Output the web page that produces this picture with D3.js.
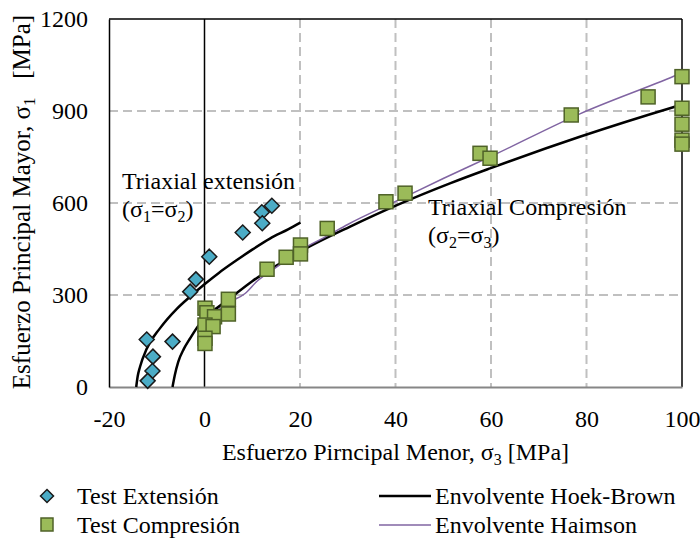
<!DOCTYPE html>
<html>
<head>
<meta charset="utf-8">
<script src="https://cdn.jsdelivr.net/npm/d3@7"></script>
<style>
  body { margin: 0; background: #fff; }
  text { font-family: "Liberation Serif", "Times New Roman", serif; fill: #000; }
</style>
</head>
<body>
<svg id="chart" width="700" height="542"></svg>
<script>
// Tick values
const xTickValues = [-20, 0, 20, 40, 60, 80, 100];
const yTickValues = [0, 300, 600, 900, 1200];

// Triaxial extension tests (sigma3, sigma1) in MPa
const extSigma3 = [-12.1, -6.7, -10.8, -10.9, -11.9, 14.1, 12.0, 12.1, 8.0, 1.0, -1.8, -3.0];
const extSigma1 = [155, 148, 99, 52, 20, 591, 570, 534, 504, 425, 351, 311];

// Triaxial compression tests (sigma3, sigma1) in MPa
const compSigma3 = [0.1, 0.5, 2.1, 5.0, 5.0, 0.1, 1.8, 0.1, 0.1, 13.1, 17.1, 20.1, 20.1, 25.7, 38.0, 42.0, 57.7, 59.8, 76.8, 92.9, 100, 100, 100, 100, 100];
const compSigma1 = [257, 242, 229, 286, 238, 202, 197, 159, 142, 384, 423, 463, 434, 517, 604, 632, 762, 746, 887, 946, 1012, 909, 857, 805, 792];

// Hoek-Brown envelope, extension branch
const hbExtSigma3 = [-14.3, -14.0, -13.5, -12.1, -9.3, -5.8, -3.0, 0, 3, 6.7, 10, 13.7, 17.5, 20.1];
const hbExtSigma1 = [0, 34, 66, 125, 192, 255, 295, 335, 372, 413, 448, 484, 514, 536];

// Hoek-Brown envelope, compression branch
const hbCompSigma3 = [-6.7, -6.2, -5.5, -4.3, -3.0, -0.9, 2, 5, 10, 15, 20.7, 30.5, 40.3, 51.4, 59.8, 78.6, 98.5, 100];
const hbCompSigma1 = [0, 40, 82, 125, 159, 208, 250, 285, 345, 395, 447, 523, 593, 664, 713, 816, 914, 921];

// Haimson envelope
const haimSigma3 = [2, 5, 8.5, 11, 15, 20, 26, 30, 40, 50, 60, 78.5, 98.5, 100];
const haimSigma1 = [240, 275, 305, 345, 390, 445, 495, 530, 605, 680, 752, 890, 1015, 1025];

const extPts = extSigma3.map((v, i) => ({ s3: v, s1: extSigma1[i] }));
const compPts = compSigma3.map((v, i) => ({ s3: v, s1: compSigma1[i] }));
const hbExt = hbExtSigma3.map((v, i) => ({ s3: v, s1: hbExtSigma1[i] }));
const hbComp = hbCompSigma3.map((v, i) => ({ s3: v, s1: hbCompSigma1[i] }));
const haim = haimSigma3.map((v, i) => ({ s3: v, s1: haimSigma1[i] }));

const svg = d3.select("#chart");
const plotL = 109, plotR = 682, plotT = 19, plotB = 387;

const x = d3.scaleLinear().domain([-20, 100]).range([plotL, plotR]);
const y = d3.scaleLinear().domain([0, 1200]).range([plotB, plotT]);

const gridColor = "#c0c0c0";
const fontSize = 24;
const subSize = 16;

// dashed gridlines
svg.append("g").selectAll("line").data([20, 40, 60, 80]).join("line")
  .attr("x1", d => x(d)).attr("x2", d => x(d))
  .attr("y1", plotT).attr("y2", plotB)
  .attr("stroke", gridColor).attr("stroke-width", 2)
  .attr("stroke-dasharray", "9,5");
svg.append("g").selectAll("line").data([300, 600, 900]).join("line")
  .attr("x1", plotL).attr("x2", plotR)
  .attr("y1", d => y(d)).attr("y2", d => y(d))
  .attr("stroke", gridColor).attr("stroke-width", 2)
  .attr("stroke-dasharray", "9,5");

// frame: top, right and sigma3 = 0 line in black
svg.append("line").attr("x1", plotL).attr("x2", plotR).attr("y1", plotT).attr("y2", plotT)
  .attr("stroke", "#000").attr("stroke-width", 1.5);
svg.append("line").attr("x1", plotR).attr("x2", plotR).attr("y1", plotT).attr("y2", plotB)
  .attr("stroke", "#000").attr("stroke-width", 1.5);
svg.append("line").attr("x1", x(0)).attr("x2", x(0)).attr("y1", plotT).attr("y2", plotB)
  .attr("stroke", "#000").attr("stroke-width", 1.5);

// axes
const xAxis = svg.append("g").attr("transform", `translate(0,${plotB})`)
  .call(d3.axisBottom(x).tickValues(xTickValues).tickSize(0).tickPadding(23).tickFormat(d => String(d)));
xAxis.select(".domain").attr("stroke", "#868686").attr("stroke-width", 2);
xAxis.selectAll("text").attr("font-size", fontSize).attr("font-family", "Liberation Serif");

const yAxis = svg.append("g").attr("transform", `translate(${plotL},0)`)
  .call(d3.axisLeft(y).tickValues(yTickValues).tickSize(0).tickPadding(21).tickFormat(d => String(d)));
yAxis.select(".domain").attr("stroke", "#000").attr("stroke-width", 1.5);
yAxis.selectAll("text").attr("font-size", fontSize).attr("font-family", "Liberation Serif");

// envelopes
const line = d3.line().x(d => x(d.s3)).y(d => y(d.s1)).curve(d3.curveMonotoneX);
svg.append("path").datum(hbExt).attr("d", line)
  .attr("fill", "none").attr("stroke", "#000").attr("stroke-width", 2.5);
svg.append("path").datum(hbComp).attr("d", line)
  .attr("fill", "none").attr("stroke", "#000").attr("stroke-width", 2.5);
svg.append("path").datum(haim).attr("d", line)
  .attr("fill", "none").attr("stroke", "#8064a2").attr("stroke-width", 1.5);

// markers
const diamond = (cx, cy, r) => `M${cx},${cy - r}L${cx + r},${cy}L${cx},${cy + r}L${cx - r},${cy}Z`;
const sq = 14;
svg.append("g").selectAll("rect").data(compPts).join("rect")
  .attr("x", d => x(d.s3) - sq / 2).attr("y", d => y(d.s1) - sq / 2)
  .attr("width", sq).attr("height", sq)
  .attr("fill", "#9bbb59").attr("stroke", "#4f6228").attr("stroke-width", 1.5);
svg.append("g").selectAll("path").data(extPts).join("path")
  .attr("d", d => diamond(x(d.s3), y(d.s1), 7.5))
  .attr("fill", "#4bacc6").attr("stroke", "#1a1a1a").attr("stroke-width", 1.5);

// text helper with subscripts: parts = [[text, isSub], ...]
function richText(g, px, py, parts, anchor, size) {
  const fs = size || fontSize;
  const ss = Math.round(fs * 2 / 3);
  const t = g.append("text").attr("x", px).attr("y", py)
    .attr("font-size", fs).attr("text-anchor", anchor || "start")
    .style("white-space", "pre");
  let shifted = false;
  parts.forEach(([s, sub]) => {
    const ts = t.append("tspan").text(s);
    if (sub && !shifted) { ts.attr("dy", 5).attr("font-size", ss); shifted = true; }
    else if (sub) { ts.attr("font-size", ss); }
    else if (shifted) { ts.attr("dy", -5); shifted = false; }
  });
  return t;
}

// annotations
richText(svg, 122, 189, [["Triaxial extensión", false]]);
richText(svg, 122, 217, [["(σ", false], ["1", true], ["=σ", false], ["2", true], [")", false]]);
richText(svg, 428, 215, [["Triaxial Compresión", false]]);
richText(svg, 428, 243, [["(σ", false], ["2", true], ["=σ", false], ["3", true], [")", false]]);

// axis titles
richText(svg, (plotL + plotR) / 2, 460, [["Esfuerzo Pirncipal Menor, σ", false], ["3", true], [" [MPa]", false]], "middle");
const yTitle = svg.append("g").attr("transform", `translate(30,202) rotate(-90)`);
richText(yTitle, 0, 0, [["Esfuerzo Principal Mayor, σ", false], ["1", true], ["   [MPa]", false]], "middle", 25);

// legend
const lg = svg.append("g");
lg.append("path").attr("d", diamond(47, 496, 6.5))
  .attr("fill", "#4bacc6").attr("stroke", "#1a1a1a").attr("stroke-width", 1.5);
lg.append("rect").attr("x", 41).attr("y", 518).attr("width", 12).attr("height", 13)
  .attr("fill", "#9bbb59").attr("stroke", "#4f6228").attr("stroke-width", 1.5);
richText(lg, 77, 504, [["Test Extensión", false]]);
richText(lg, 77, 533, [["Test Compresión", false]]);
lg.append("line").attr("x1", 379).attr("x2", 431).attr("y1", 496).attr("y2", 496)
  .attr("stroke", "#000").attr("stroke-width", 2.5);
lg.append("line").attr("x1", 379).attr("x2", 431).attr("y1", 525).attr("y2", 525)
  .attr("stroke", "#8064a2").attr("stroke-width", 1.5);
richText(lg, 435, 504, [["Envolvente Hoek-Brown", false]]);
richText(lg, 435, 533, [["Envolvente Haimson", false]]);
</script>
</body>
</html>
